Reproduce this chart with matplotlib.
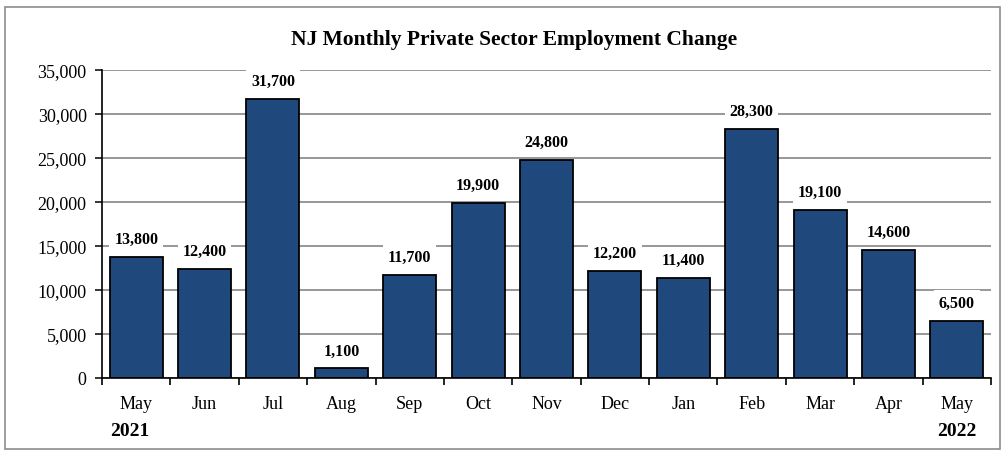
import matplotlib
matplotlib.use('Agg')
import matplotlib.pyplot as plt
from matplotlib.patches import Rectangle
import numpy as np

# 월별 데이터
months = ['May', 'Jun', 'Jul', 'Aug', 'Sep', 'Oct', 'Nov', 'Dec', 'Jan', 'Feb', 'Mar', 'Apr', 'May']
changes = [13800, 12400, 31700, 1100, 11700, 19900, 24800, 12200, 11400, 28300, 19100, 14600, 6500]
yticks = [0, 5000, 10000, 15000, 20000, 25000, 30000, 35000]

plt.rcParams['font.family'] = ['Liberation Serif', 'DejaVu Serif']

fig = plt.figure(figsize=(10.05, 4.56), dpi=100)
ax = fig.add_axes([102 / 1005, 1 - 379 / 456, (991 - 102) / 1005, (379 - 71) / 456])

# 바깥 테두리
fig.patches.append(Rectangle((5 / 1005, 6 / 456), 995 / 1005, 442 / 456, transform=fig.transFigure,
                             fill=False, edgecolor='#8c8c8c', linewidth=1.2))

x = np.arange(len(months))
ax.set_axisbelow(True)
ax.yaxis.grid(True, color='#7a7a7a', linewidth=1.1)
bars = ax.bar(x, changes, width=0.775, color='#1f497d', edgecolor='black', linewidth=1.3, zorder=2)

for xi, v in zip(x, changes):
    ax.annotate(f'{v:,}', (xi, v), xytext=(0, 7), textcoords='offset points',
                ha='center', va='bottom', fontsize=11.5, fontweight='bold', zorder=3,
                bbox=dict(boxstyle='square,pad=0.3', facecolor='white', edgecolor='none'))

ax.set_xlim(-0.5, len(months) - 0.5)
ax.set_ylim(0, 35000)
ax.set_yticks(yticks)
ax.set_yticklabels([f'{t:,}' for t in yticks], fontsize=13)
ax.set_xticks(x)
ax.set_xticklabels(months, fontsize=13)
ax.tick_params(axis='x', which='major', length=0, pad=12)
ax.set_xticks(np.arange(-0.5, len(months)), minor=True)
ax.tick_params(axis='x', which='minor', length=5, width=1.2, direction='out')
ax.tick_params(axis='y', length=5, width=1.1, direction='out', pad=6)

for s in ['top', 'right']:
    ax.spines[s].set_visible(False)
for s in ['left', 'bottom']:
    ax.spines[s].set_linewidth(1.2)

fig.text(514 / 1005, 1 - 40 / 456, 'NJ Monthly Private Sector Employment Change',
         ha='center', va='center', fontsize=15.5, fontweight='bold')
fig.text(130 / 1005, 1 - 432 / 456, '2021', ha='center', va='center', fontsize=14, fontweight='bold')
fig.text(957 / 1005, 1 - 432 / 456, '2022', ha='center', va='center', fontsize=14, fontweight='bold')

plt.savefig('out.png', dpi=100)
